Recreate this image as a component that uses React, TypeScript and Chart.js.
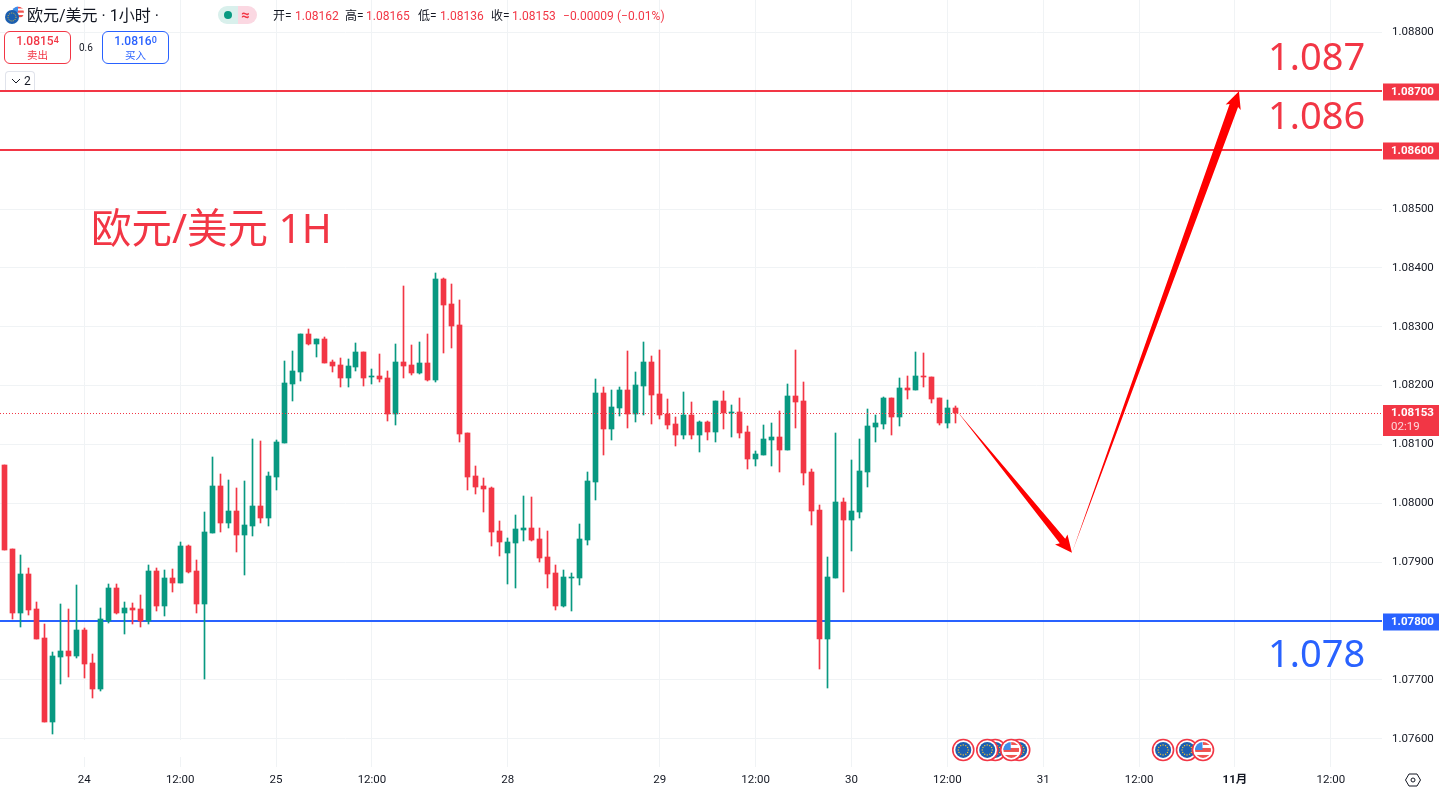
import React, { useEffect, useRef } from "react";
import { Chart, registerables } from "chart.js";

Chart.register(...registerables);

const opens = [1.08065,1.07922,1.07814,1.0788,1.0782,1.07771,1.07628,1.07739,1.07749,1.0774,1.07785,1.07729,1.07684,1.078,1.07856,1.07814,1.07822,1.0782,1.078,1.07885,1.07826,1.07873,1.07865,1.07928,1.07885,1.07829,1.0795,1.0803,1.07967,1.07987,1.07946,1.07962,1.07996,1.07975,1.08045,1.08103,1.08203,1.08223,1.08288,1.08271,1.08279,1.0824,1.08235,1.08213,1.08232,1.08257,1.08215,1.08217,1.08213,1.08152,1.0824,1.08235,1.08222,1.08239,1.0821,1.08381,1.08339,1.08303,1.0812,1.08047,1.0803,1.08026,1.07953,1.07916,1.07933,1.07955,1.07958,1.07939,1.07909,1.07882,1.07826,1.07873,1.07873,1.07938,1.08036,1.08188,1.08126,1.08162,1.08193,1.08152,1.082,1.0824,1.08186,1.08152,1.08135,1.08116,1.0815,1.08116,1.08138,1.08121,1.08174,1.08154,1.08155,1.08121,1.08075,1.08082,1.08108,1.08113,1.08091,1.08183,1.08174,1.08053,1.07989,1.07769,1.07873,1.08002,1.07972,1.07985,1.08053,1.0813,1.08135,1.08179,1.08147,1.08196,1.08193,1.08217,1.08215,1.08179,1.08137,1.08162];
const closes = [1.07921,1.07814,1.0788,1.07819,1.07769,1.07628,1.0774,1.07749,1.0774,1.07785,1.07727,1.07684,1.07803,1.07856,1.07814,1.07822,1.07819,1.078,1.07885,1.07826,1.07873,1.07865,1.07928,1.07883,1.07829,1.07951,1.0803,1.07967,1.07987,1.07946,1.07963,1.07996,1.07975,1.08047,1.08104,1.08205,1.08225,1.08288,1.08271,1.08279,1.08239,1.08234,1.08213,1.08234,1.08257,1.08213,1.08217,1.08211,1.08152,1.0824,1.08234,1.08222,1.08239,1.0821,1.08381,1.08337,1.08302,1.08118,1.08045,1.08028,1.08024,1.07951,1.07934,1.07934,1.07956,1.07958,1.07938,1.07907,1.0788,1.07826,1.07875,1.07875,1.07939,1.08038,1.08188,1.08126,1.08164,1.08193,1.08152,1.08201,1.0824,1.08184,1.0815,1.08133,1.08116,1.0815,1.08116,1.08138,1.08121,1.08174,1.08154,1.08155,1.0812,1.08075,1.08084,1.08109,1.08113,1.08091,1.08183,1.08172,1.08052,1.07987,1.07769,1.07875,1.08002,1.07972,1.07987,1.08055,1.08132,1.08137,1.08179,1.08147,1.08196,1.08193,1.08217,1.08215,1.08177,1.08137,1.08162,1.08153];
const highs = [1.08065,1.07922,1.07912,1.0789,1.07832,1.07795,1.07747,1.07829,1.0782,1.07861,1.07788,1.07744,1.07822,1.07863,1.07863,1.07832,1.07831,1.07844,1.07895,1.0789,1.07887,1.07888,1.07934,1.07929,1.07904,1.07985,1.08079,1.0805,1.0804,1.08026,1.08038,1.08109,1.08106,1.08053,1.08108,1.08242,1.08259,1.08288,1.08296,1.08279,1.08283,1.08244,1.08247,1.08245,1.08273,1.08257,1.08228,1.08254,1.08225,1.08271,1.0837,1.08269,1.08274,1.08288,1.08392,1.08383,1.08373,1.08346,1.0812,1.08064,1.08043,1.08028,1.0797,1.07941,1.0798,1.08013,1.08011,1.07958,1.07953,1.07895,1.07887,1.07882,1.07965,1.08053,1.08211,1.08198,1.08193,1.08198,1.08259,1.08223,1.08274,1.08251,1.08261,1.08177,1.08147,1.08189,1.08172,1.0814,1.0814,1.08174,1.08191,1.08167,1.08179,1.08132,1.08089,1.08133,1.08137,1.08157,1.08203,1.08261,1.08206,1.08058,1.07997,1.07909,1.0812,1.08009,1.08074,1.08109,1.0816,1.0815,1.08181,1.08179,1.08213,1.08217,1.08257,1.08256,1.08215,1.08179,1.08176,1.08165];
const lows = [1.07921,1.07803,1.0779,1.0781,1.07769,1.07628,1.07608,1.07693,1.07705,1.07737,1.07703,1.07669,1.07681,1.07797,1.07812,1.07778,1.07795,1.0779,1.07795,1.07817,1.07809,1.07849,1.07865,1.07882,1.07814,1.07701,1.0795,1.07951,1.07958,1.07917,1.07878,1.07945,1.07967,1.07962,1.08023,1.08103,1.08174,1.08208,1.08269,1.08249,1.08239,1.08223,1.08198,1.08198,1.08225,1.082,1.08203,1.08206,1.0814,1.08133,1.08213,1.08218,1.0822,1.08208,1.08206,1.08256,1.08264,1.08104,1.08023,1.08016,1.07985,1.07928,1.07911,1.07863,1.07856,1.07936,1.07936,1.079,1.07856,1.07819,1.07824,1.07817,1.07861,1.07929,1.08006,1.08082,1.08108,1.08149,1.08128,1.08138,1.0815,1.08135,1.08143,1.08126,1.08098,1.08109,1.08109,1.08087,1.08108,1.08104,1.08126,1.08113,1.08111,1.08058,1.08064,1.08082,1.08064,1.08053,1.08091,1.08128,1.08031,1.07963,1.07718,1.07686,1.07873,1.07849,1.07919,1.07975,1.08028,1.08104,1.08126,1.08116,1.08132,1.08177,1.08193,1.08198,1.08171,1.08133,1.08128,1.08136];

const barIndexes = opens.map((_, i) => i);
const xTickIndexes = [10, 22, 34, 46, 63, 82, 94, 106, 118, 130, 142, 154, 166];
const xTickLabels = ["24", "12:00", "25", "12:00", "28", "29", "12:00", "30", "12:00", "31", "12:00", "11月", "12:00"];
const yTickValues = [1.076, 1.077, 1.078, 1.079, 1.08, 1.081, 1.082, 1.083, 1.084, 1.085, 1.086, 1.087, 1.088];
const resistanceLevels = [1.087, 1.086];
const supportLevels = [1.078];
const lastPrice = 1.08153;
const countdown = "02:19";
const arrowIndexes = [119.2, 133.6, 154.5];
const arrowPrices = [1.08157, 1.07916, 1.087];
const euEvents = [120, 123, 124, 127, 145, 148];
const usEvents = [126, 150];

const RED = "#F23645";
const GREEN = "#089981";
const BLUE = "#2962FF";
const GRID = "#f0f3f5";
const INK = "#131722";
const X_MIN = -0.5507;
const X_MAX = 172.4;
const Y_MIN = 1.075587;
const Y_MAX = 1.088552;
const TICK_FONT = "Roboto";

function arrow(ctx: any, sx: number, sy: number, tx: number, ty: number, shaft: number, headLen: number, headHalf: number) {
  const len = Math.hypot(tx - sx, ty - sy);
  const dx = (tx - sx) / len;
  const dy = (ty - sy) / len;
  const nx = -dy;
  const ny = dx;
  const ax = tx - dx * headLen;
  const ay = ty - dy * headLen;
  ctx.beginPath();
  ctx.moveTo(sx, sy);
  ctx.lineTo(ax + (nx * shaft) / 2, ay + (ny * shaft) / 2);
  ctx.lineTo(ax - dx * 2 + nx * headHalf, ay - dy * 2 + ny * headHalf);
  ctx.lineTo(tx, ty);
  ctx.lineTo(ax - dx * 2 - nx * headHalf, ay - dy * 2 - ny * headHalf);
  ctx.lineTo(ax - (nx * shaft) / 2, ay - (ny * shaft) / 2);
  ctx.closePath();
  ctx.fillStyle = "#FF0000";
  ctx.fill();
}

function ring(ctx: any, x: number, y: number) {
  ctx.beginPath();
  ctx.arc(x, y, 10.5, 0, Math.PI * 2);
  ctx.fillStyle = "#ffffff";
  ctx.fill();
  ctx.lineWidth = 1.6;
  ctx.strokeStyle = RED;
  ctx.stroke();
}

function euIcon(ctx: any, x: number, y: number) {
  ring(ctx, x, y);
  ctx.beginPath();
  ctx.arc(x, y, 8, 0, Math.PI * 2);
  ctx.fillStyle = "#1C5FB0";
  ctx.fill();
  ctx.fillStyle = "#F2C230";
  for (let k = 0; k < 12; k++) {
    const a = (k * Math.PI) / 6;
    ctx.fillRect(x + Math.cos(a) * 5 - 0.6, y + Math.sin(a) * 5 - 0.6, 1.2, 1.2);
  }
}

function usIcon(ctx: any, x: number, y: number) {
  ring(ctx, x, y);
  ctx.save();
  ctx.beginPath();
  ctx.arc(x, y, 8, 0, Math.PI * 2);
  ctx.clip();
  ctx.fillStyle = "#ffffff";
  ctx.fillRect(x - 8, y - 8, 16, 16);
  ctx.fillStyle = "#F0524F";
  ctx.fillRect(x - 8, y - 2, 16, 4);
  ctx.fillRect(x - 8, y + 5, 16, 3);
  ctx.fillRect(x, y - 8, 8, 3);
  ctx.fillStyle = "#3F8CE8";
  ctx.fillRect(x - 8, y - 8, 7.5, 8);
  ctx.restore();
}

function priceTag(ctx: any, y: number, color: string, text: string) {
  ctx.fillStyle = color;
  ctx.fillRect(1383, y - 8, 56, 17);
  ctx.fillStyle = "#ffffff";
  ctx.font = `bold 11.5px ${TICK_FONT}`;
  ctx.textAlign = "left";
  ctx.textBaseline = "middle";
  ctx.fillText(text, 1391, y + 0.5);
}

const snapPlugin = {
  id: "snap",
  afterDatasetsUpdate(chart: any) {
    chart.data.datasets.forEach((ds: any, i: number) => {
      const meta = chart.getDatasetMeta(i);
      if (ds.type === "line") {
        meta.data.forEach((p: any) => {
          p.y = Math.round(p.y) + (ds.borderWidth === 1 ? 0.5 : 0);
        });
        return;
      }
      meta.data.forEach((el: any) => {
        el.x = Math.round(el.x - 0.5) + 0.5;
        const a = Math.round(el.y);
        let b = Math.round(el.base);
        if (a === b) b = a + 1;
        el.y = a;
        el.base = b;
      });
    });
  },
};

const overlayPlugin = {
  id: "overlay",
  afterDatasetsDraw(chart: any) {
    const { ctx, scales } = chart;
    const { x: sx, y: sy } = scales;
    ctx.save();
    arrow(ctx, sx.getPixelForValue(arrowIndexes[0]), sy.getPixelForValue(arrowPrices[0]), sx.getPixelForValue(arrowIndexes[1]), sy.getPixelForValue(arrowPrices[1]), 7, 15, 8);
    arrow(ctx, sx.getPixelForValue(arrowIndexes[1]), sy.getPixelForValue(arrowPrices[1]), sx.getPixelForValue(arrowIndexes[2]), sy.getPixelForValue(arrowPrices[2]), 9, 15, 8);
    ctx.restore();
  },
  afterDraw(chart: any) {
    const { ctx, scales } = chart;
    const { x: sx, y: sy } = scales;
    ctx.save();
    const iconY = sy.getPixelForValue(1.0758) - 0.5;
    euEvents.forEach((i) => i !== 123 && euIcon(ctx, sx.getPixelForValue(i), iconY));
    euIcon(ctx, sx.getPixelForValue(123), iconY);
    usEvents.forEach((i) => usIcon(ctx, sx.getPixelForValue(i), iconY));
    resistanceLevels.forEach((v) => priceTag(ctx, Math.round(sy.getPixelForValue(v)) + 0.5, RED, v.toFixed(5)));
    supportLevels.forEach((v) => priceTag(ctx, Math.round(sy.getPixelForValue(v)) + 0.5, BLUE, v.toFixed(5)));
    const py = Math.round(sy.getPixelForValue(lastPrice));
    ctx.fillStyle = RED;
    ctx.fillRect(1383, py - 8, 56, 31);
    ctx.fillStyle = "#ffffff";
    ctx.font = `bold 11.5px ${TICK_FONT}`;
    ctx.textAlign = "left";
    ctx.textBaseline = "middle";
    ctx.fillText(lastPrice.toFixed(5), 1391, py + 0.5);
    ctx.fillStyle = "rgba(255,255,255,0.8)";
    ctx.font = `11.5px ${TICK_FONT}`;
    ctx.fillText(countdown, 1391, py + 14.5);
    ctx.restore();
  },
};

const txt = (left: number, top: number, text: string, style: React.CSSProperties = {}) => (
  <div style={{ position: "absolute", left, top, whiteSpace: "nowrap", ...style }}>{text}</div>
);

const CJK = 'Roboto, "Noto Sans CJK SC", sans-serif';
const BIG = '"Noto Sans", "Noto Sans CJK SC", sans-serif';

function QuoteBox({ left, color, price, sup, label }: { left: number; color: string; price: string; sup: string; label: string }) {
  return (
    <div style={{ position: "absolute", left, top: 31, width: 67, height: 33, boxSizing: "border-box", border: `1px solid ${color}`, borderRadius: 6, background: "#fff", color, textAlign: "center", fontFamily: CJK }}>
      <div style={{ fontSize: 12, lineHeight: "14px", marginTop: 2, fontWeight: 500 }}>
        {price}
        <span style={{ fontSize: 9, position: "relative", top: -2 }}>{sup}</span>
      </div>
      <div style={{ fontSize: 10.5, lineHeight: "13px" }}>{label}</div>
    </div>
  );
}

export default function App() {
  const ref = useRef<HTMLCanvasElement>(null);

  useEffect(() => {
    if (!ref.current) return;
    const barColors = opens.map((o, i) => (closes[i] >= o ? GREEN : RED));
    const level = (v: number, color: string, width: number, dash: number[] = []) => ({
      type: "line",
      data: [
        { x: X_MIN, y: v },
        { x: X_MAX, y: v },
      ],
      borderColor: color,
      borderWidth: width,
      borderDash: dash,
      pointRadius: 0,
      order: dash.length ? 0 : 5,
    });
    const chart = new Chart(ref.current, {
      type: "bar",
      data: {
        datasets: [
          ...resistanceLevels.map((v) => level(v, RED, 2)),
          ...supportLevels.map((v) => level(v, BLUE, 2)),
          level(lastPrice, RED, 1, [1, 2]),
          {
            data: barIndexes.map((i) => ({ x: i, y: [lows[i], highs[i]] })),
            backgroundColor: barColors,
            barThickness: 1,
            grouped: false,
            order: 3,
          },
          {
            data: barIndexes.map((i) => ({ x: i, y: [opens[i], closes[i]] })),
            backgroundColor: barColors,
            barThickness: 5,
            grouped: false,
            order: 2,
          },
        ] as any,
      },
      plugins: [snapPlugin, overlayPlugin],
      options: {
        responsive: false,
        animation: false,
        devicePixelRatio: 1,
        events: [],
        layout: { padding: 0 },
        plugins: { legend: { display: false }, tooltip: { enabled: false } },
        scales: {
          x: {
            type: "linear",
            min: X_MIN,
            max: X_MAX,
            offset: false,
            border: { display: false },
            grid: { color: GRID, offset: false, tickLength: 4, tickColor: GRID },
            afterBuildTicks: (axis: any) => {
              axis.ticks = xTickIndexes.map((value) => ({ value }));
            },
            afterFit: (axis: any) => {
              axis.height = 30;
              axis.paddingLeft = 0;
              axis.paddingRight = 0;
            },
            ticks: {
              autoSkip: false,
              maxRotation: 0,
              padding: 6,
              color: INK,
              font: (c: any) => ({ family: `${TICK_FONT}, "Noto Sans CJK SC"`, size: 11.5, weight: c.tick && c.tick.value === 154 ? "bold" : "normal" }),
              callback: (v: any) => xTickLabels[xTickIndexes.indexOf(v)] ?? "",
            },
          },
          y: {
            position: "right",
            min: Y_MIN,
            max: Y_MAX,
            border: { display: false },
            grid: { color: GRID, drawTicks: false },
            afterBuildTicks: (axis: any) => {
              axis.ticks = yTickValues.map((value) => ({ value }));
            },
            afterFit: (axis: any) => {
              axis.width = 57;
              axis.paddingTop = 0;
              axis.paddingBottom = 0;
            },
            ticks: {
              padding: 10,
              color: INK,
              font: { family: TICK_FONT, size: 11.5 },
              callback: (v: any) => Number(v).toFixed(5),
            },
          },
        },
      } as any,
    });
    return () => chart.destroy();
  }, []);

  const head: React.CSSProperties = { fontSize: 12, lineHeight: "16px", fontFamily: CJK };
  const big: React.CSSProperties = { fontFamily: BIG, fontSize: 38, lineHeight: "44px" };

  return (
    <div style={{ position: "fixed", left: 0, top: 0, width: 1439, height: 793, overflow: "hidden", background: "#fff" }}>
      <canvas ref={ref} width={1439} height={793} style={{ display: "block" }} />
      <div style={{ position: "absolute", left: 0, top: 740, width: 204, height: 17, background: "#fff" }} />

      <svg style={{ position: "absolute", left: 3, top: 4 }} width={24} height={24} viewBox="0 0 24 24">
        <defs>
          <clipPath id="us"><circle cx="15" cy="8.5" r="6" /></clipPath>
        </defs>
        <g clipPath="url(#us)">
          <rect x="9" y="2" width="12" height="13" fill="#fff" />
          <rect x="9" y="6.5" width="12" height="2.2" fill="#F0524F" />
          <rect x="9" y="11" width="12" height="2.2" fill="#F0524F" />
          <rect x="15" y="2.5" width="6" height="2" fill="#F0524F" />
          <rect x="9" y="2" width="6" height="6" fill="#3F8CE8" />
        </g>
        <circle cx="9" cy="13" r="7" fill="#1C5FB0" />
        <circle cx="9" cy="13" r="4" fill="none" stroke="#F2C230" strokeWidth="1" strokeDasharray="1 1.2" />
      </svg>
      {txt(27, 6, "欧元/美元 · 1小时 ·", { fontFamily: CJK, fontSize: 16, lineHeight: "20px", color: INK })}

      <div style={{ position: "absolute", left: 218, top: 6, width: 20, height: 18, background: "#D9F0EC", borderRadius: "9px 0 0 9px" }} />
      <div style={{ position: "absolute", left: 238, top: 6, width: 19, height: 18, background: "#FBD8E2", borderRadius: "0 9px 9px 0" }} />
      <div style={{ position: "absolute", left: 224, top: 11, width: 8, height: 8, borderRadius: 4, background: GREEN }} />
      {txt(241, 6, "≈", { fontFamily: CJK, fontSize: 15, lineHeight: "18px", fontWeight: 700, color: RED })}

      {txt(273, 8, "开=", { ...head, color: INK })}
      {txt(295, 8, "1.08162", { ...head, color: RED })}
      {txt(345, 8, "高=", { ...head, color: INK })}
      {txt(366, 8, "1.08165", { ...head, color: RED })}
      {txt(418, 8, "低=", { ...head, color: INK })}
      {txt(440, 8, "1.08136", { ...head, color: RED })}
      {txt(491, 8, "收=", { ...head, color: INK })}
      {txt(512, 8, "1.08153", { ...head, color: RED })}
      {txt(563, 8, "−0.00009 (−0.01%)", { ...head, color: RED, letterSpacing: 0.05 })}

      <QuoteBox left={4} color={RED} price="1.0815" sup="4" label="卖出" />
      {txt(79, 41, "0.6", { fontFamily: "Roboto", fontSize: 10, lineHeight: "14px", color: INK })}
      <QuoteBox left={102} color={BLUE} price="1.0816" sup="0" label="买入" />

      <div style={{ position: "absolute", left: 5, top: 71, width: 30, height: 19, boxSizing: "border-box", border: "1px solid #E0E3EB", borderBottom: "none", borderRadius: "4px 4px 0 0", background: "#fff" }} />
      <svg style={{ position: "absolute", left: 11, top: 78 }} width={10} height={6} viewBox="0 0 10 6">
        <path d="M1 1 L5 5 L9 1" fill="none" stroke={INK} strokeWidth="1" />
      </svg>
      {txt(24, 73, "2", { fontFamily: "Roboto", fontSize: 12, lineHeight: "16px", color: INK })}

      {txt(91, 203, "欧元/美元 1H", { fontFamily: BIG, fontSize: 40.5, lineHeight: "50px", color: RED })}
      {txt(1268, 33, "1.087", { ...big, color: RED })}
      {txt(1268, 92, "1.086", { ...big, color: RED })}
      {txt(1268, 630, "1.078", { ...big, color: BLUE })}

      <svg style={{ position: "absolute", left: 1404, top: 771 }} width={18} height={18} viewBox="0 0 18 18">
        <polygon points="1.5,9 5,3 13,3 16.5,9 13,15 5,15" fill="none" stroke={INK} strokeWidth="1" />
        <circle cx="9" cy="9" r="2" fill="none" stroke={INK} strokeWidth="1" />
      </svg>
    </div>
  );
}
